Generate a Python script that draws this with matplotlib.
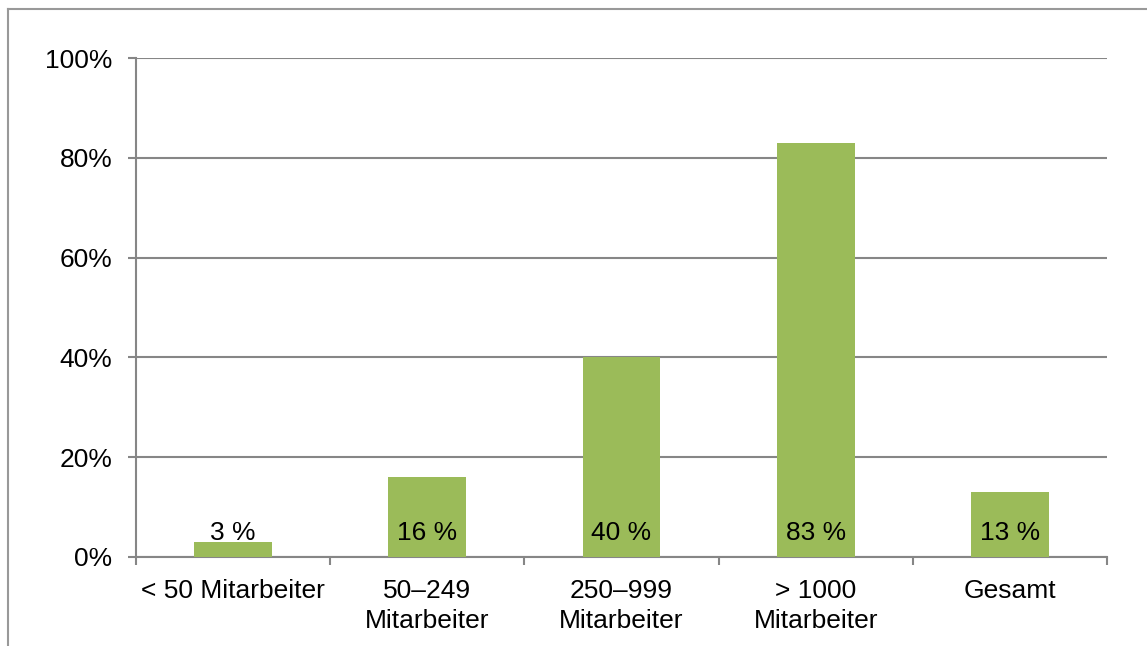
import matplotlib.pyplot as plt
import matplotlib.lines as mlines
import numpy as np

plt.rcParams['font.family'] = ['Liberation Sans', 'DejaVu Sans']

# data
categories = ['< 50 Mitarbeiter', '50\u2013249\nMitarbeiter', '250\u2013999\nMitarbeiter',
              '> 1000\nMitarbeiter', 'Gesamt']
values = [3, 16, 40, 83, 13]
value_labels = ['3 %', '16 %', '40 %', '83 %', '13 %']
yticks = [0, 20, 40, 60, 80, 100]
ytick_labels = ['0%', '20%', '40%', '60%', '80%', '100%']

green = '#9BBB59'
grey = '#868686'
fs = 19

fig = plt.figure(figsize=(11.47, 6.46), dpi=100)
ax = fig.add_axes([136 / 1147, 1 - 557 / 646, 971 / 1147, 499 / 646])

x = np.arange(len(categories))
ax.bar(x, values, width=0.4, color=green, zorder=3)

# value labels near the base of each bar
for xi, lab in zip(x, value_labels):
    ax.text(xi, 3.5, lab, ha='center', va='baseline', fontsize=fs, color='black', zorder=4)

ax.set_xlim(-0.5, len(categories) - 0.5)
ax.set_ylim(0, 100)

ax.set_yticks(yticks)
ax.set_yticklabels(ytick_labels, fontsize=fs)
ax.yaxis.grid(True, color=grey, linewidth=1.5, zorder=0)
ax.tick_params(axis='y', length=6, width=1.5, color=grey, pad=11)

ax.set_xticks(x)
ax.set_xticklabels(categories, fontsize=fs, va='top', linespacing=1.3)
ax.set_xticks(np.arange(len(categories) + 1) - 0.5, minor=True)
ax.tick_params(axis='x', which='major', length=0, pad=16)
ax.tick_params(axis='x', which='minor', length=6, width=1.5, color=grey)

for side in ['top', 'right']:
    ax.spines[side].set_visible(False)
for side in ['left', 'bottom']:
    ax.spines[side].set_color(grey)
    ax.spines[side].set_linewidth(1.5)

# outer frame (left and top visible)
fig.add_artist(mlines.Line2D([8 / 1147, 8 / 1147], [0, 1 - 9 / 646],
                             transform=fig.transFigure, color='#999999', linewidth=1.5))
fig.add_artist(mlines.Line2D([8 / 1147, 1], [1 - 9 / 646, 1 - 9 / 646],
                             transform=fig.transFigure, color='#999999', linewidth=1.5))

fig.savefig('out.png', dpi=100)
